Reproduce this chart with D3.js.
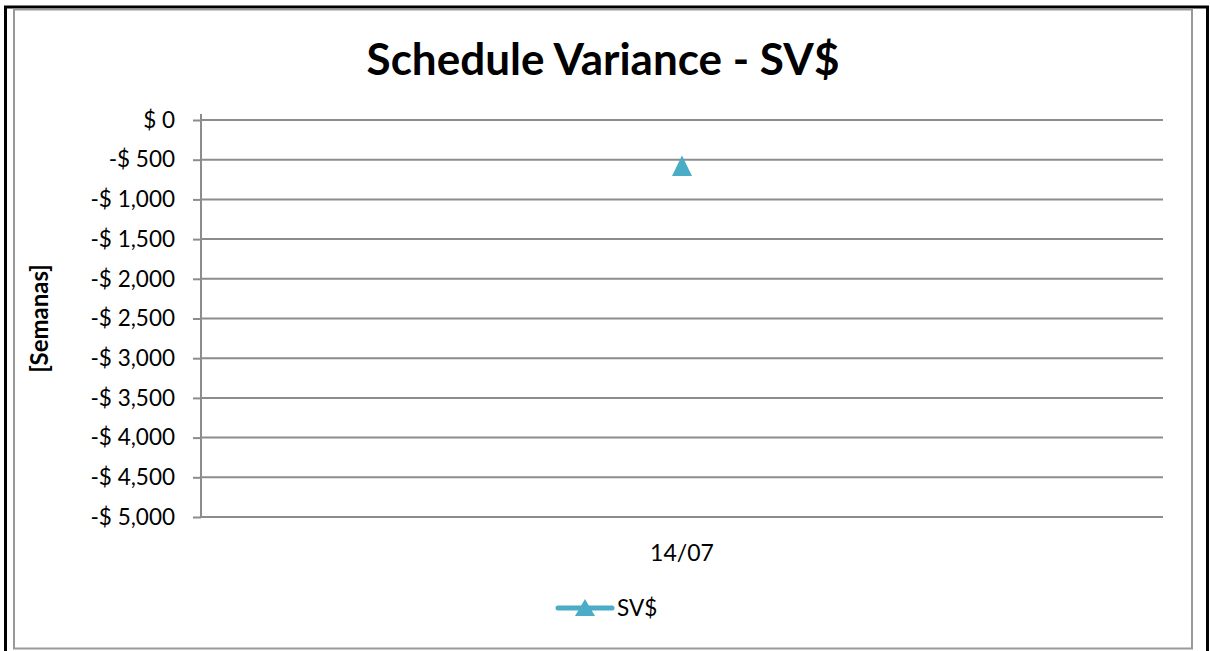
<!DOCTYPE html>
<meta charset="utf-8">
<style>
    body { margin: 0; background: #fff; }
    text { font-family: Lato, "Open Sans", sans-serif; fill: #000; }
    .grid line { stroke: #8c8c8c; stroke-width: 2px; }
    .axis path, .axis line { stroke: #8c8c8c; stroke-width: 2px; }
    .axis text { font-size: 22.5px; font-family: Lato, sans-serif; fill: #000; }
</style>
<script src="https://d3js.org/d3.v7.min.js"></script>
<body>
<div id="chart"></div>
<script>
    // data
    var categories = ["14/07"];
    var svValues = [-580];
    var yTicks = [0, -500, -1000, -1500, -2000, -2500, -3000, -3500, -4000, -4500, -5000];

    var W = 1210, H = 651;
    var svg = d3.select("#chart").append("svg")
        .attr("width", W)
        .attr("height", H);

    // outer frame (black) and chart area (gray)
    svg.append("rect").attr("x", 5.5).attr("y", 7).attr("width", 1202).attr("height", 650)
        .attr("fill", "#fff").attr("stroke", "#000").attr("stroke-width", 3);
    svg.append("rect").attr("x", 14).attr("y", 9.5).attr("width", 1178).attr("height", 639)
        .attr("fill", "#fff").attr("stroke", "#999").attr("stroke-width", 2);

    var plot = { left: 201, right: 1163, top: 120, bottom: 517 };

    var x = d3.scaleBand().domain(categories).range([plot.left, plot.right]);
    var y = d3.scaleLinear().domain([-5000, 0]).range([plot.bottom, plot.top]);

    var fmt = function(v) {
        return (v < 0 ? "-$ " : "$ ") + d3.format(",")(Math.abs(v));
    };

    // gridlines
    svg.append("g").attr("class", "grid")
        .selectAll("line").data(yTicks).enter().append("line")
        .attr("x1", plot.left).attr("x2", plot.right)
        .attr("y1", function(d) { return y(d); })
        .attr("y2", function(d) { return y(d); });

    // y axis
    var yAxis = d3.axisLeft(y).tickValues(yTicks).tickFormat(fmt).tickSize(8).tickSizeOuter(0).tickPadding(18);
    var gy = svg.append("g").attr("class", "axis")
        .attr("transform", "translate(" + plot.left + ",0)")
        .call(yAxis);
    gy.select(".domain").attr("d", "M0," + (plot.top - 6) + "V" + plot.bottom);

    // x labels
    svg.append("g").selectAll("text").data(categories).enter().append("text")
        .attr("x", function(d) { return x(d) + x.bandwidth() / 2; })
        .attr("y", 561)
        .attr("text-anchor", "middle")
        .attr("font-size", 23)
        .text(function(d) { return d; });

    // triangle marker, box-centred like the spreadsheet marker
    var tri = "M0,-10.5L10,10L-10,10Z";
    svg.append("g").selectAll("path").data(svValues).enter().append("path")
        .attr("d", tri)
        .attr("fill", "#4bacc6")
        .attr("transform", function(d, i) {
            return "translate(" + (x(categories[i]) + x.bandwidth() / 2) + "," + y(d) + ")";
        });

    // title
    svg.append("text")
        .attr("x", 603).attr("y", 75)
        .attr("text-anchor", "middle")
        .attr("font-size", 44).attr("font-weight", "bold")
        .text("Schedule Variance - SV$");

    // y axis title
    svg.append("text")
        .attr("transform", "translate(48," + ((plot.top + plot.bottom) / 2) + ") rotate(-90)")
        .attr("text-anchor", "middle")
        .attr("font-size", 24).attr("font-weight", "bold")
        .text("[Semanas]");

    // legend
    var leg = svg.append("g").attr("transform", "translate(558,608)");
    leg.append("line").attr("x1", 0).attr("x2", 54).attr("y1", 0).attr("y2", 0)
        .attr("stroke", "#4bacc6").attr("stroke-width", 5).attr("stroke-linecap", "round");
    leg.append("path").attr("d", "M0,-9L10,8L-10,8Z").attr("fill", "#4bacc6")
        .attr("transform", "translate(27,0)");
    leg.append("text").attr("x", 59).attr("y", 8).attr("font-size", 22.5).text("SV$");
</script>
</body>
